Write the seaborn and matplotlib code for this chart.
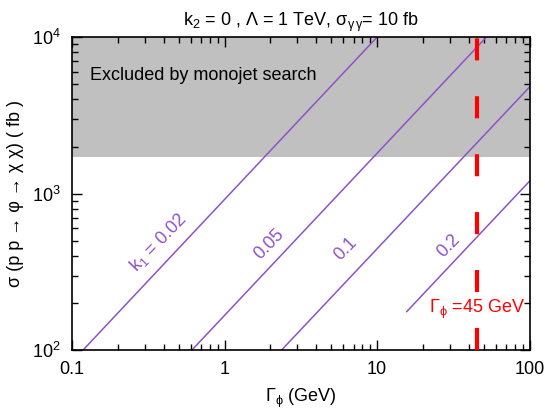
import numpy as np
import pandas as pd
import seaborn as sns
import matplotlib.pyplot as plt

# line endpoints (Gamma in GeV, sigma in fb)
k1_labels = ['k$_1$ = 0.02', '0.05', '0.1', '0.2']
gamma_start = [0.118, 0.61, 2.36, 15.6]
gamma_end = [10.0, 52.0, 100.0, 100.0]
sigma_start = [100.0, 100.0, 100.0, 176.0]
sigma_end = [10000.0, 10000.0, 4810.0, 1205.0]

# label anchor points along each line
label_x = [0.368, 1.97, 6.25, 29.3]
label_y = [484.0, 472.0, 441.0, 461.0]

monojet_limit = 1710.0
gamma_width = 45.0

xticks = [0.1, 1, 10, 100]
xticklabels = ['0.1', '1', '10', '100']

sns.set_style('ticks')
plt.rcParams['font.family'] = ['Liberation Sans', 'DejaVu Sans']
plt.rcParams['mathtext.fontset'] = 'custom'
plt.rcParams['mathtext.rm'] = 'Liberation Sans'
plt.rcParams['mathtext.it'] = 'Liberation Sans'
plt.rcParams['font.size'] = 13
plt.rcParams['text.color'] = 'black'
plt.rcParams['axes.labelcolor'] = 'black'
plt.rcParams['xtick.color'] = 'black'
plt.rcParams['ytick.color'] = 'black'

purple = '#8e52c8'

rows = []
for lab, x0, x1, y0, y1 in zip(k1_labels, gamma_start, gamma_end, sigma_start, sigma_end):
    rows.append({'k1': lab, 'Gamma': x0, 'sigma': y0})
    rows.append({'k1': lab, 'Gamma': x1, 'sigma': y1})
df = pd.DataFrame(rows)

fig, ax = plt.subplots(figsize=(5.45, 4.12), dpi=100)
fig.subplots_adjust(left=0.132, right=0.972, top=0.910, bottom=0.150)

ax.axhspan(monojet_limit, 1e4, color='#c0c0c0', lw=0, zorder=0)

sns.lineplot(data=df, x='Gamma', y='sigma', units='k1', estimator=None,
             color=purple, lw=1.1, ax=ax, legend=False)

ax.axvline(gamma_width, color='#ff0000', lw=3, dashes=(5.3, 8.6), zorder=3)

ax.set_xscale('log')
ax.set_yscale('log')
ax.set_xlim(0.1, 100)
ax.set_ylim(100, 1e4)
ax.set_xticks(xticks)
ax.set_xticklabels(xticklabels)

for lab, x, y in zip(k1_labels, label_x, label_y):
    ax.text(x, y, lab, color=purple, rotation=46, ha='center', va='center', fontsize=13)

ax.text(0.132, 5700, 'Excluded by monojet search', ha='left', va='center', fontsize=13)
ax.text(22, 182, r'Γ$_{\phi}$ =45 GeV', color='#ff0000', ha='left', va='center', fontsize=13)

ax.set_xlabel(r'Γ$_{\phi}$ (GeV)', fontsize=13, labelpad=6)
ax.set_ylabel('σ (p p → φ → χ χ) ( fb )', fontsize=13, labelpad=6)
ax.set_title(r'k$_2$ = 0 , Λ = 1 TeV, σ$_{\gamma\,\gamma}$= 10 fb', fontsize=13, pad=8)

ax.tick_params(which='both', direction='in', top=True, right=True, width=1)
ax.tick_params(which='major', length=7, pad=8, labelsize=13)
ax.tick_params(which='minor', length=4)
for s in ax.spines.values():
    s.set_linewidth(1.2)
    s.set_color('black')

fig.savefig('out.png', dpi=100)
